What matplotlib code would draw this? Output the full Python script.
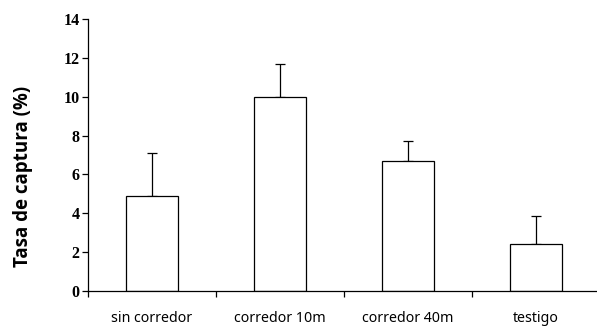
import numpy as np
import matplotlib.pyplot as plt

# Datos
categorias = ['sin corredor', 'corredor 10m', 'corredor 40m', 'testigo']
tasa = [4.9, 10.0, 6.7, 2.4]
error_sup = [2.2, 1.7, 1.0, 1.45]

fig = plt.figure(figsize=(5.97, 3.26), dpi=100)
ax = fig.add_axes([88/597, 35/326, 512/597, 272/326])

x = np.arange(len(categorias)) + 0.5
ax.bar(x, tasa, width=0.41, color='white', edgecolor='black', linewidth=0.9, zorder=2)
ax.errorbar(x, tasa, yerr=[np.zeros(len(tasa)), error_sup], fmt='none',
            ecolor='black', elinewidth=0.9, capsize=3.6, capthick=0.9, zorder=1)

ax.set_xlim(0, 4)
ax.set_ylim(0, 14)
ax.set_yticks(np.arange(0, 15, 2))
ax.set_yticklabels([str(v) for v in range(0, 15, 2)],
                   fontfamily='Liberation Serif', fontweight='bold', fontsize=11.5)

ax.set_xticks([0, 1, 2, 3, 4])
ax.set_xticklabels([])
ax.set_xticks(x, minor=True)
ax.set_xticklabels(categorias, minor=True, fontfamily='Noto Sans', fontsize=10.2)
ax.tick_params(axis='x', which='minor', length=0, pad=14.5)
ax.tick_params(axis='x', which='major', direction='out', length=4, width=0.9)
ax.tick_params(axis='y', direction='out', length=4, width=0.9, pad=2)

for s in ['top', 'right']:
    ax.spines[s].set_visible(False)
for s in ['left', 'bottom']:
    ax.spines[s].set_linewidth(0.9)

ax.set_ylabel('Tasa de captura (%)', fontfamily='Open Sans', fontweight='bold',
              fontsize=13.5)
ax.yaxis.set_label_coords((33 - 88) / 512, (291 - 176) / 272)

fig.savefig('out.png', dpi=100)
